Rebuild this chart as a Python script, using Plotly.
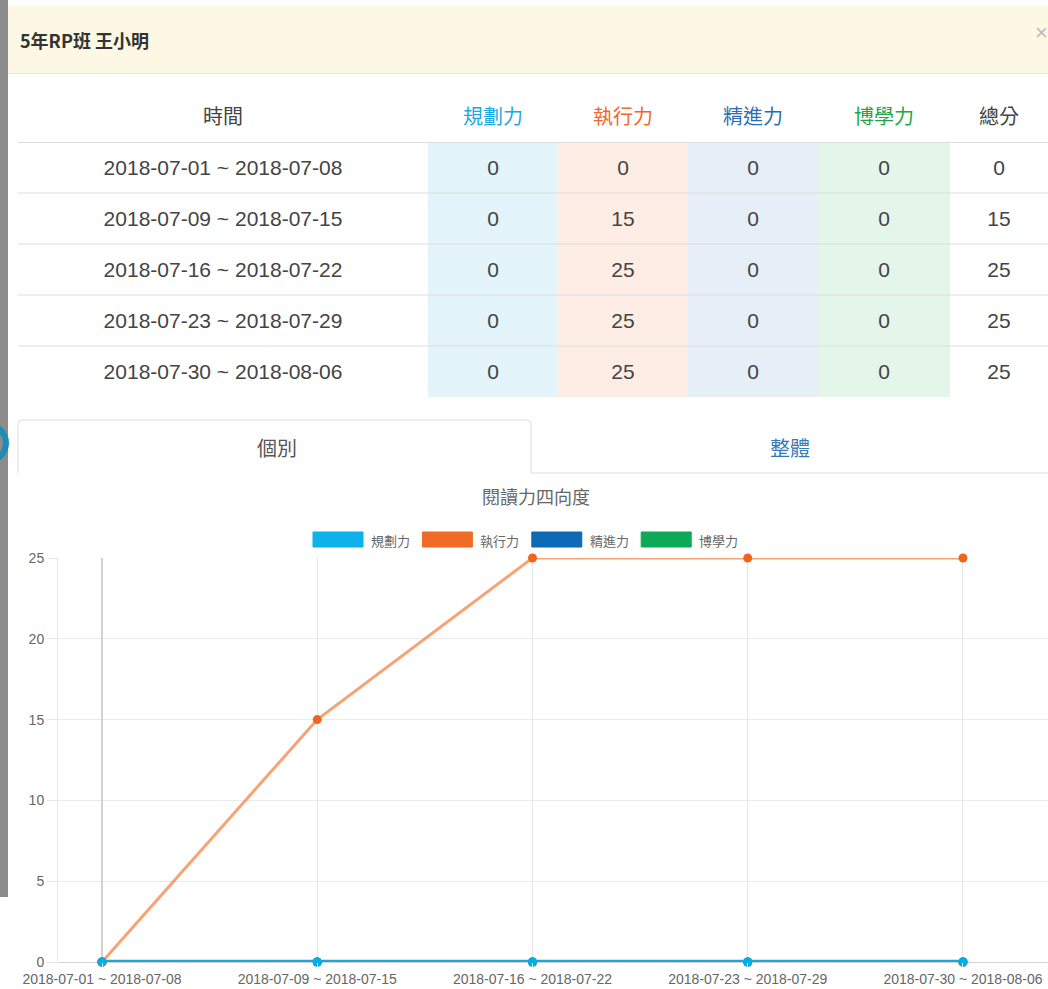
import plotly.graph_objects as go

# ---------------- data ----------------
student_title = "5年RP班 王小明"
time_header = "時間"
total_header = "總分"
tab_labels = ["個別", "整體"]
chart_title = "閱讀力四向度"
periods = [
    "2018-07-01 ~ 2018-07-08",
    "2018-07-09 ~ 2018-07-15",
    "2018-07-16 ~ 2018-07-22",
    "2018-07-23 ~ 2018-07-29",
    "2018-07-30 ~ 2018-08-06",
]
dimensions = ["規劃力", "執行力", "精進力", "博學力"]
planning = [0, 0, 0, 0, 0]
execution = [0, 15, 25, 25, 25]
progress = [0, 0, 0, 0, 0]
learning = [0, 0, 0, 0, 0]
totals = [0, 15, 25, 25, 25]
y_ticks = [0, 5, 10, 15, 20, 25]

series_values = [planning, execution, progress, learning]

# ---------------- style ----------------
W, H = 1048, 989
FONT = "Liberation Sans, Noto Sans CJK TC, sans-serif"
CJK = "Noto Sans CJK TC, Liberation Sans, sans-serif"
header_colors = ["#1aa8e4", "#ef6a28", "#2b6cb3", "#20a649"]
cell_fills = ["#e3f4fb", "#fdede5", "#e6eff8", "#e4f5e9"]
marker_colors = ["#00aee8", "#f0651b", "#0064b0", "#00a650"]
line_colors = ["#1fa6d9", "rgba(240,101,27,0.6)", "rgba(0,100,176,0.6)", "rgba(0,166,80,0.6)"]
line_widths = [4.5, 3, 3, 3]
col_widths = [410, 130, 130, 130, 132, 98]


def px(x):
    return x / W


def py(y):
    return 1 - y / H


fig = go.Figure()

# ---------------- table (heatmap cells) ----------------
ncols = len(col_widths)
edges = [0]
for w in col_widths:
    edges.append(edges[-1] + w)
nrows = len(periods)
z = [[c for c in range(ncols)] for _ in range(nrows)]
text = [[periods[r], planning[r], execution[r], progress[r], learning[r], totals[r]] for r in range(nrows)]
text = [[str(v) for v in row] for row in text]
fills = ["#ffffff"] + cell_fills + ["#ffffff"]
colorscale = [[i / (ncols - 1), fills[i]] for i in range(ncols)]

fig.add_trace(go.Heatmap(
    z=z, x=edges, y=list(range(nrows + 1)), text=text, texttemplate="%{text}",
    textfont=dict(family=FONT, size=21, color="#444444"),
    colorscale=colorscale, zmin=0, zmax=ncols - 1, showscale=False,
    hoverinfo="skip", xaxis="x2", yaxis="y2",
))

# ---------------- line chart ----------------
xs = list(range(len(periods)))
order = list(range(len(dimensions)))[::-1]
for i in order:
    fig.add_trace(go.Scatter(
        x=xs, y=series_values[i], name=dimensions[i], mode="lines+markers",
        line=dict(color=line_colors[i], width=line_widths[i]),
        marker=dict(color=marker_colors[i], size=9),
        cliponaxis=False, showlegend=False, hoverinfo="skip",
    ))

shapes = []
annotations = []

# background strip (page behind modal)
shapes.append(dict(type="rect", xref="paper", yref="paper", x0=px(0), x1=px(8), y0=py(897), y1=py(0),
                   fillcolor="#8c8c8c", line=dict(width=0), layer="below"))
shapes.append(dict(type="circle", xref="paper", yref="paper", x0=px(-30), x1=px(6), y0=py(461), y1=py(425),
                   line=dict(color="#1c8db5", width=6), layer="above"))
# modal header
shapes.append(dict(type="rect", xref="paper", yref="paper", x0=px(8), x1=px(1048), y0=py(73), y1=py(6),
                   fillcolor="#fcf8e3", line=dict(width=0), layer="below"))
shapes.append(dict(type="line", xref="paper", yref="paper", x0=px(8), x1=px(1048), y0=py(73.5), y1=py(73.5),
                   line=dict(color="#e8e8e8", width=1)))
annotations.append(dict(text="<b>" + student_title + "</b>", xref="paper", yref="paper", x=px(18), y=py(40),
                        xanchor="left", yanchor="middle", showarrow=False,
                        font=dict(family=CJK, size=18, color="#333333")))
annotations.append(dict(text="×", xref="paper", yref="paper", x=px(1041), y=py(32),
                        xanchor="center", yanchor="middle", showarrow=False,
                        font=dict(family=FONT, size=22, color="#bbbbbb")))

# table header
headers = [time_header] + dimensions + [total_header]
hcolors = ["#444444"] + header_colors + ["#444444"]
for c in range(ncols):
    annotations.append(dict(text=headers[c], xref="x2", yref="paper", x=(edges[c] + edges[c + 1]) / 2, y=py(116),
                            xanchor="center", yanchor="middle", showarrow=False,
                            font=dict(family=CJK, size=20, color=hcolors[c])))
shapes.append(dict(type="line", xref="paper", yref="y2", x0=px(18), x1=1, y0=0, y1=0,
                   line=dict(color="#dddddd", width=2)))
for r in range(1, nrows):
    shapes.append(dict(type="line", xref="paper", yref="y2", x0=px(18), x1=1, y0=r, y1=r,
                       line=dict(color="#dddddd", width=1)))

# tabs
def P(x, y):
    return f"{px(x)},{py(y)}"

tab_path = (f"M {P(18,473)} L {P(18,424)} Q {P(18,420)} {P(22,420)} L {P(527,420)} "
            f"Q {P(531,420)} {P(531,424)} L {P(531,473)}")
shapes.append(dict(type="path", xref="paper", yref="paper", path=tab_path, line=dict(color="#dddddd", width=1)))
shapes.append(dict(type="line", xref="paper", yref="paper", x0=px(531), x1=px(1048), y0=py(473), y1=py(473),
                   line=dict(color="#dddddd", width=1)))
annotations.append(dict(text=tab_labels[0], xref="paper", yref="paper", x=px(277), y=py(447),
                        xanchor="center", yanchor="middle", showarrow=False,
                        font=dict(family=CJK, size=20, color="#555555")))
annotations.append(dict(text=tab_labels[1], xref="paper", yref="paper", x=px(790), y=py(447),
                        xanchor="center", yanchor="middle", showarrow=False,
                        font=dict(family=CJK, size=20, color="#337ab7")))

# chart title
annotations.append(dict(text=chart_title, xref="paper", yref="paper", x=px(536), y=py(496),
                        xanchor="center", yanchor="middle", showarrow=False,
                        font=dict(family=CJK, size=18, color="#666666")))

# legend
leg_x0, leg_step = 313, 109.4
for i, name in enumerate(dimensions):
    bx = leg_x0 + i * leg_step
    shapes.append(dict(type="rect", xref="paper", yref="paper", x0=px(bx), x1=px(bx + 50), y0=py(547), y1=py(532),
                       fillcolor=marker_colors[i], line=dict(color=marker_colors[i], width=1), opacity=0.95))
    annotations.append(dict(text=name, xref="paper", yref="paper", x=px(bx + 56), y=py(540),
                            xanchor="left", yanchor="middle", showarrow=False,
                            font=dict(family=CJK, size=13, color="#666666")))

fig.update_layout(
    width=W, height=H, autosize=False,
    margin=dict(l=0, r=0, t=0, b=0),
    paper_bgcolor="#ffffff", plot_bgcolor="rgba(0,0,0,0)",
    template="none",
    shapes=shapes, annotations=annotations,
    showlegend=False,
    xaxis=dict(
        domain=[px(58), 1.0], range=[-0.2044, 4.395], anchor="y",
        tickvals=xs, ticktext=periods, tickfont=dict(family=FONT, size=14, color="#666666"),
        showgrid=True, gridcolor="#e6e6e6", gridwidth=1,
        zeroline=True, zerolinecolor="#d2d2d2", zerolinewidth=1.5,
        ticks="outside", ticklen=4, tickcolor="#e6e6e6",
        showline=False, automargin=False, fixedrange=True,
    ),
    yaxis=dict(
        domain=[py(962), py(558)], range=[0, 25], anchor="x",
        tickvals=y_ticks, tickfont=dict(family=FONT, size=14, color="#666666"),
        showgrid=True, gridcolor="#ebebeb", gridwidth=1,
        zeroline=True, zerolinecolor="#d2d2d2", zerolinewidth=1,
        ticks="outside", ticklen=10, tickcolor="#e6e6e6",
        showline=True, linecolor="#e6e6e6", linewidth=1,
        automargin=False, fixedrange=True,
    ),
    xaxis2=dict(domain=[px(18), 1.0], range=[0, edges[-1]], anchor="y2", visible=False, fixedrange=True),
    yaxis2=dict(domain=[py(397), py(142)], range=[nrows, 0], anchor="x2", visible=False, fixedrange=True),
)

fig.write_html(
    "out.html",
    config={"displayModeBar": False},
    post_script="document.body.style.margin='0';document.body.style.overflow='hidden';",
)
